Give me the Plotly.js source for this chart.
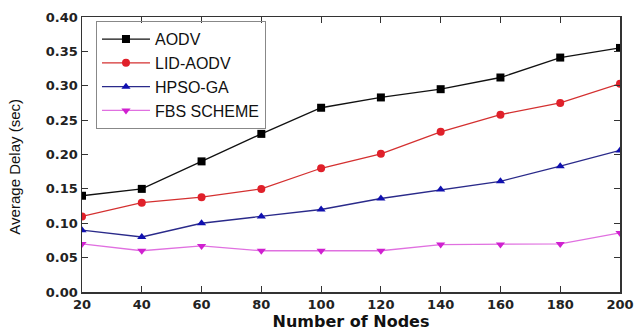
<!DOCTYPE html>
<html><head><meta charset="utf-8">
<script src="https://cdn.plot.ly/plotly-3.0.1.min.js"></script>
<style>html,body{margin:0;padding:0;background:#fff}#chart{width:634px;height:331px}</style>
</head><body><div id="chart"></div>
<script>
const nodes = [20, 40, 60, 80, 100, 120, 140, 160, 180, 200];
const aodv = [0.14, 0.15, 0.19, 0.23, 0.268, 0.283, 0.295, 0.312, 0.341, 0.355];
const lidAodv = [0.11, 0.13, 0.138, 0.15, 0.18, 0.201, 0.233, 0.258, 0.275, 0.303];
const hpsoGa = [0.09, 0.08, 0.10, 0.11, 0.12, 0.136, 0.149, 0.161, 0.183, 0.206];
const fbs = [0.07, 0.06, 0.067, 0.06, 0.06, 0.06, 0.069, 0.069, 0.07, 0.086];
const names = ['AODV', 'LID-AODV', 'HPSO-GA', 'FBS SCHEME'];
const yTicks = [0, 0.05, 0.10, 0.15, 0.20, 0.25, 0.30, 0.35, 0.40];
const xTitle = 'Number of Nodes';
const yTitle = 'Average Delay (sec)';

function tr(y, name, lineColor, markColor, sym) {
  return {x: nodes, y: y, name: name, type: 'scatter', mode: 'lines+markers',
    line: {color: lineColor, width: 1.3},
    marker: {symbol: sym, size: 8, color: markColor}};
}
const data = [
  tr(aodv, names[0], '#111111', '#000000', 'square'),
  tr(lidAodv, names[1], '#d43030', '#e0202a', 'circle'),
  tr(hpsoGa, names[2], '#2a2a8a', '#1010b0', 'triangle-up'),
  tr(fbs, names[3], '#e070e0', '#d020d0', 'triangle-down')
];
const tickFont = {family: 'DejaVu Sans, sans-serif', size: 13, color: '#222', weight: 'bold'};
const layout = {
  width: 634, height: 331,
  margin: {l: 82, r: 14, t: 17, b: 39},
  paper_bgcolor: '#fff', plot_bgcolor: '#fff',
  showlegend: true,
  legend: {x: 0.026, y: 0.985, xanchor: 'left', yanchor: 'top',
    bordercolor: '#888', borderwidth: 1, bgcolor: 'rgba(255,255,255,0)',
    font: {family: 'Liberation Sans, Arial, sans-serif', size: 16, color: '#111'},
    tracegroupgap: 0, itemwidth: 48},
  xaxis: {range: [20, 200], tickvals: nodes, ticktext: nodes.map(String),
    ticks: 'inside', ticklen: 6, tickcolor: '#333', mirror: 'ticks',
    showline: true, linecolor: '#333', linewidth: 1.5, showgrid: false, zeroline: false,
    tickfont: tickFont,
    title: {text: xTitle, standoff: 4,
      font: {family: 'DejaVu Sans, sans-serif', size: 16, color: '#111', weight: 'bold'}}},
  yaxis: {range: [0, 0.40], tickvals: yTicks, ticktext: yTicks.map(v => v.toFixed(2)),
    ticks: 'inside', ticklen: 6, tickcolor: '#333', mirror: 'ticks',
    showline: true, linecolor: '#333', linewidth: 1.5, showgrid: false, zeroline: false,
    tickfont: tickFont},
  annotations: [{text: yTitle, textangle: -90, xref: 'paper', yref: 'paper',
    x: -0.125, y: 0.455, xanchor: 'center', yanchor: 'middle', showarrow: false,
    font: {family: 'Liberation Sans, Arial, sans-serif', size: 15, color: '#111'}}]
};
Plotly.newPlot('chart', data, layout, {displayModeBar: false, staticPlot: true});
</script></body></html>
